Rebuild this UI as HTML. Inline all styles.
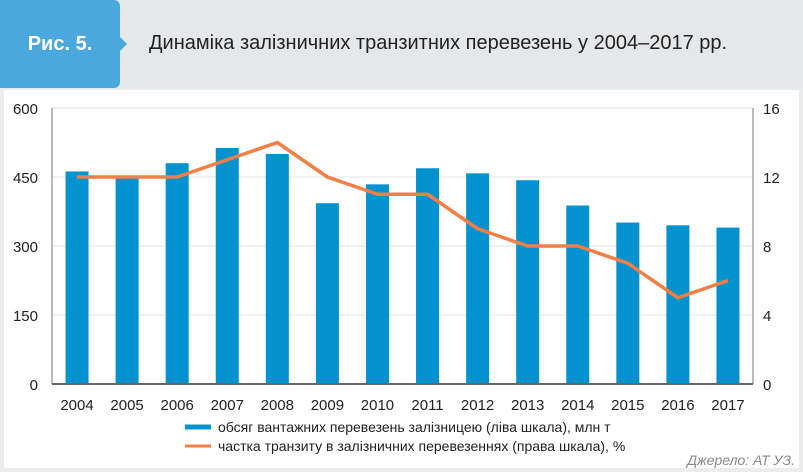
<!DOCTYPE html>
<html><head><meta charset="utf-8"><style>
body{margin:0;width:803px;height:472px;background:#ececec;font-family:"Liberation Sans",sans-serif;position:relative;overflow:hidden}
#hdr{position:absolute;left:0;top:0;width:803px;height:88px;background:#e6e7e9}
#fig{position:absolute;left:0;top:0;width:120px;height:88px;background:#4aa8dd;border-radius:0 6px 6px 0;color:#fff;font-weight:bold;font-size:20px;line-height:88px;text-align:center}
#fig:after{content:"";position:absolute;right:-7px;top:37px;border-left:7px solid #4aa8dd;border-top:7px solid transparent;border-bottom:7px solid transparent}
#title{position:absolute;left:149px;top:32px;font-size:20px;color:#222}
#panel{position:absolute;left:4px;top:90px;width:795px;height:378px;background:#fff}
svg{position:absolute;left:0;top:0}
</style></head><body>
<div id="hdr"></div>
<div id="fig">Рис. 5.</div>
<div id="title">Динаміка залізничних транзитних перевезень у 2004–2017 рр.</div>
<div id="panel"></div>
<svg id="chart" width="803" height="472"></svg>
<script>
const years=["2004","2005","2006","2007","2008","2009","2010","2011","2012","2013","2014","2015","2016","2017"];
const volume=[462,452,480,513,500,393,434,469,458,443,388,351,345,340];
const share=[12,12,12,13,14,12,11,11,9,8,8,7,5,6];
const leftTicks=[0,150,300,450,600];
const rightTicks=[0,4,8,12,16];
const NS="http://www.w3.org/2000/svg";
const svg=document.getElementById('chart');
const X0=52,X1=753,Y0=384,Y1=108;
const band=(X1-X0)/years.length;
const xc=i=>X0+band*(i+0.5);
const yl=v=>Y0-(v/600)*(Y0-Y1);
const yr=v=>Y0-(v/16)*(Y0-Y1);
function mk(t,a,txt){const e=document.createElementNS(NS,t);for(const k in a)e.setAttribute(k,a[k]);if(txt!==undefined)e.textContent=txt;svg.appendChild(e);return e;}
leftTicks.forEach((v,i)=>{
 if(v>0){const g=mk('line',{x1:X0,x2:X1,y1:yl(v),y2:yl(v),stroke:'#e3e3e3','stroke-width':1});
 
 }
 const t=mk('text',{x:38,y:yl(v)+6,'text-anchor':'end','font-size':15,fill:'#222'},v);
 
 
});
rightTicks.forEach(v=>{
 const t=mk('text',{x:763,y:yr(v)+6,'font-size':15,fill:'#222'},v);
 
 
});
volume.forEach((v,i)=>{
 const r=mk('rect',{x:xc(i)-11.5,y:yl(v),width:23,height:Y0-yl(v),fill:'#0192cf'});
 
 
 const t=mk('text',{x:xc(i),y:410,'text-anchor':'middle','font-size':15,fill:'#222'},years[i]);
 
 
});
const la=mk('line',{x1:X0,x2:X0,y1:Y1,y2:Y0,stroke:'#777','stroke-width':1});


const ra=mk('line',{x1:X1,x2:X1,y1:Y1,y2:Y0,stroke:'#777','stroke-width':1});


const xa=mk('line',{x1:X0,x2:X1,y1:Y0,y2:Y0,stroke:'#666','stroke-width':2});


const pl=mk('polyline',{points:share.map((v,i)=>xc(i)+','+yr(v)).join(' '),fill:'none',stroke:'#f47f45','stroke-width':3.5,'stroke-linejoin':'round'});


const s1=mk('line',{x1:185,x2:211,y1:427,y2:427,stroke:'#0192cf','stroke-width':5});


const l1=mk('text',{x:218,y:432,'font-size':14,fill:'#222'},'обсяг вантажних перевезень залізницею (ліва шкала), млн т');


const s2=mk('line',{x1:185,x2:211,y1:446,y2:446,stroke:'#f47f45','stroke-width':3});


const l2=mk('text',{x:218,y:451,'font-size':14,fill:'#222'},'частка транзиту в залізничних перевезеннях (права шкала), %');


const src=mk('text',{x:795,y:465,'text-anchor':'end','font-size':14,'font-style':'italic',fill:'#888'},'Джерело: АТ УЗ.');


</script>
</body></html>
